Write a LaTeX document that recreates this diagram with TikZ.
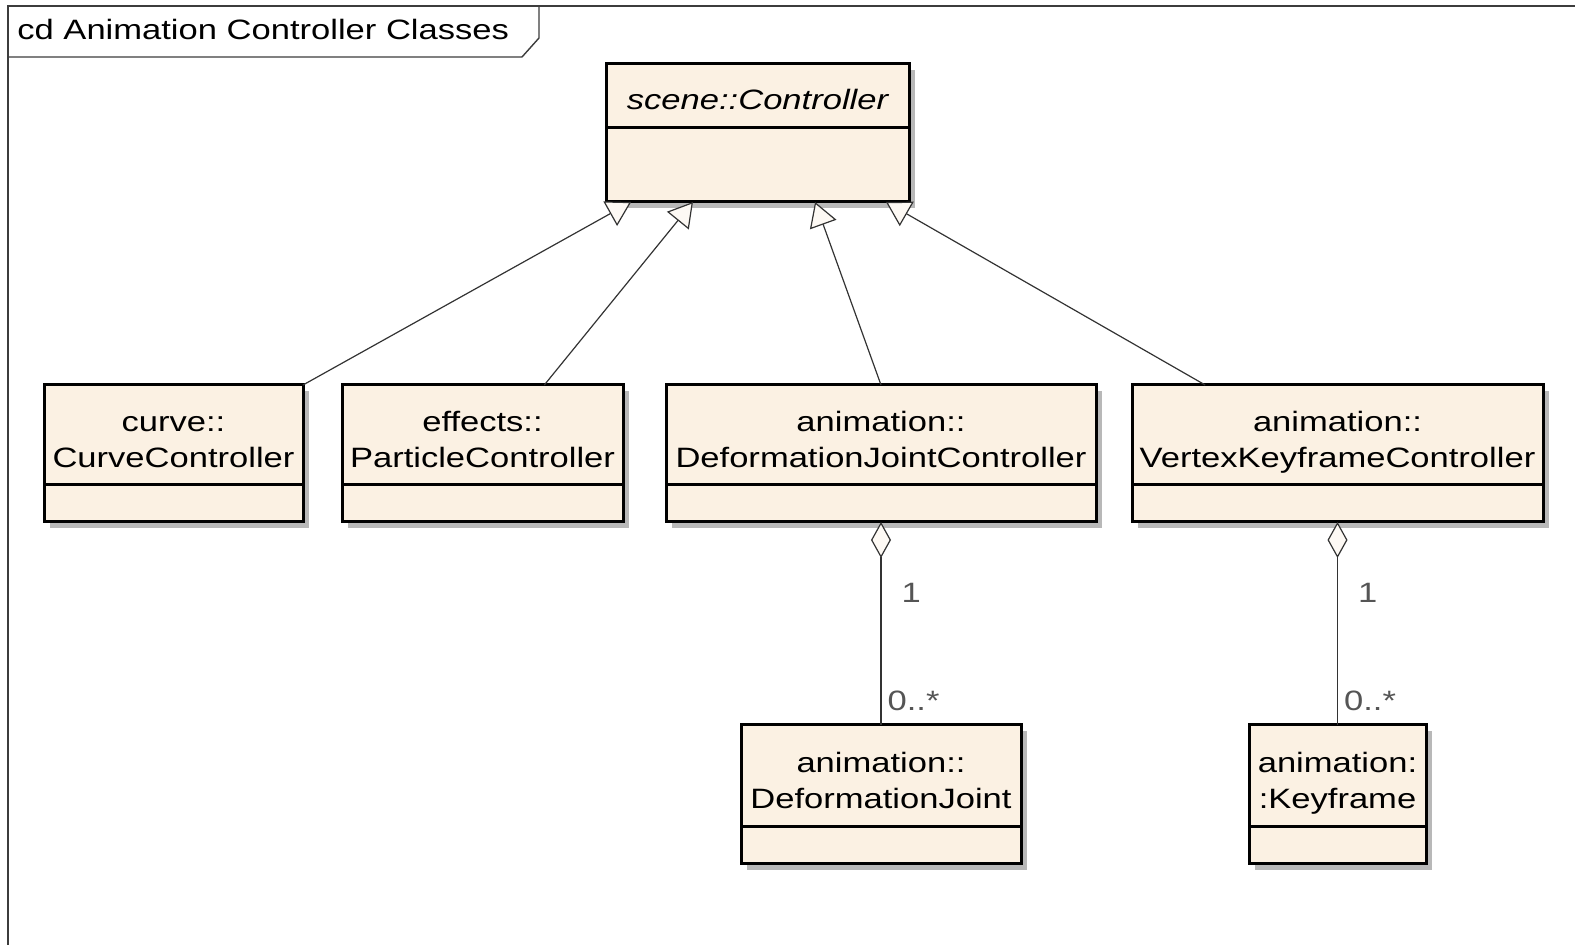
\documentclass[tikz,border=0pt]{standalone}
\usepackage{fontspec}
\setmainfont{Liberation Sans}[FakeStretch=1.234]
\usetikzlibrary{positioning,calc,arrows.meta,shadows}

\definecolor{classfill}{RGB}{251,241,227}
\definecolor{framegray}{RGB}{60,60,60}
\definecolor{multgray}{RGB}{85,85,85}

\tikzset{
	umlfont/.style={font=\fontsize{14}{18}\selectfont},
	classname/.style={draw, line width=1.5pt, fill=classfill, align=center,
		anchor=north west, inner sep=0pt, outer sep=0pt, umlfont,
		text height=33pt, text depth=0pt,
		drop shadow={shadow xshift=3pt, shadow yshift=-3pt, fill=black!28, opacity=1}},
	classbody/.style={draw, line width=1.5pt, fill=classfill, inner sep=0pt,
		outer sep=0pt, minimum height=18.5pt,
		drop shadow={shadow xshift=3pt, shadow yshift=-3pt, fill=black!28, opacity=1}},
	inherit/.style={draw=black!80, line width=0.6pt,
		-{Triangle[length=12pt, width=14pt, fill=classfill!40!white]}},
	aggr/.style={draw=black!80, line width=0.6pt,
		{Diamond[length=18pt, width=10pt, fill=classfill!40!white]}-},
	mult/.style={umlfont, text=multgray, inner sep=0pt}
}

\begin{document}
\begin{tikzpicture}[x=0.5pt, y=-0.5pt]
	\useasboundingbox (0,0) rectangle (1575,945);

	% diagram frame and its name tab
	\draw[framegray, line width=1.2pt] (8,945) -- (8,6) -- (1575,6);
	\draw[framegray, line width=0.7pt] (8,57) -- (522,57) -- (539,38) -- (539,6);
	\node[umlfont, anchor=base west, inner sep=0pt] (title) at (17,40) {cd Animation Controller Classes};

	% classes
	\node[classname, minimum width=151.5pt, minimum height=32pt, text height=14pt] (ctrl) at (606,64) {\itshape scene::Controller};
	\node[classbody, minimum width=151.5pt, minimum height=37pt, below=0pt of ctrl] (ctrl-a) {};

	\node[classname, minimum width=129.5pt, minimum height=50pt] (curve) at (44,385) {curve::\\CurveController};
	\node[classbody, minimum width=129.5pt, below=0pt of curve] (curve-a) {};

	\node[classname, minimum width=140.5pt, minimum height=50pt] (particle) at (342,385) {effects::\\ParticleController};
	\node[classbody, minimum width=140.5pt, below=0pt of particle] (particle-a) {};

	\node[classname, minimum width=215pt, minimum height=50pt] (djc) at (666,385) {animation::\\DeformationJointController};
	\node[classbody, minimum width=215pt, below=0pt of djc] (djc-a) {};

	\node[classname, minimum width=205.5pt, minimum height=50pt] (vkc) at (1132,385) {animation::\\VertexKeyframeController};
	\node[classbody, minimum width=205.5pt, below=0pt of vkc] (vkc-a) {};

	\node[classname, minimum width=140pt, minimum height=51pt] (joint) at (741,725) {animation::\\DeformationJoint};
	\node[classbody, minimum width=140pt, below=0pt of joint] (joint-a) {};

	\node[classname, minimum width=88.5pt, minimum height=51pt] (keyframe) at (1249,725) {animation:\\:Keyframe};
	\node[classbody, minimum width=88.5pt, below=0pt of keyframe] (keyframe-a) {};

	% generalizations
	\draw[inherit] (curve.north east) -- ($(ctrl-a.south west)!0.083!(ctrl-a.south east)$);
	\draw[inherit] ($(particle.north west)!0.72!(particle.north east)$) -- ($(ctrl-a.south west)!0.287!(ctrl-a.south east)$);
	\draw[inherit] (djc.north) -- ($(ctrl-a.south west)!0.69!(ctrl-a.south east)$);
	\draw[inherit] ($(vkc.north west)!0.178!(vkc.north east)$) -- ($(ctrl-a.south west)!0.924!(ctrl-a.south east)$);

	% aggregations
	\draw[aggr] (djc-a.south) -- node[mult, pos=0.35, right=10pt] {1}
		node[mult, pos=1, above right=7pt and 3pt] {0..*} (joint.north);
	\draw[aggr] (vkc-a.south) -- node[mult, pos=0.35, right=10pt] {1}
		node[mult, pos=1, above right=7pt and 3pt] {0..*} (keyframe.north);
\end{tikzpicture}
\end{document}
